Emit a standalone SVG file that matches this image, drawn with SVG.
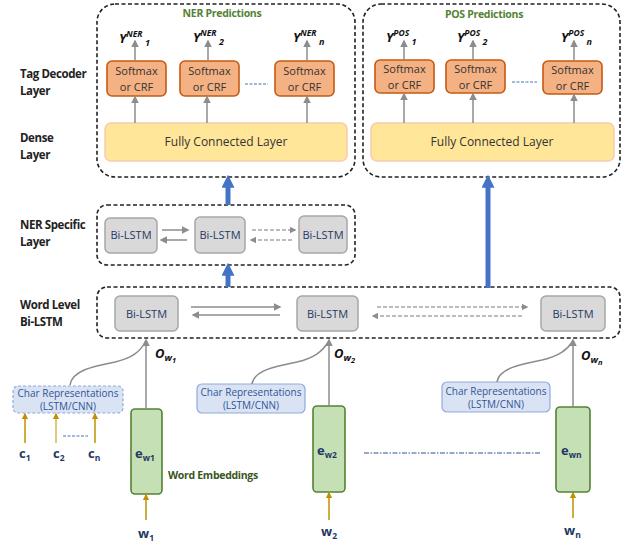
<svg xmlns="http://www.w3.org/2000/svg" width="630" height="547" viewBox="0 0 630 547">
<defs>
<marker id="ag" viewBox="0 0 10 10" refX="8" refY="5" markerWidth="5" markerHeight="5" orient="auto"><path d="M0,0 L10,5 L0,10 z" fill="#8c8c8c"/></marker>
<marker id="ab" viewBox="0 0 10 10" refX="6" refY="5" markerWidth="2.6" markerHeight="2.6" orient="auto"><path d="M0,0 L10,5 L0,10 z" fill="#4472c4"/></marker>
<marker id="ay" viewBox="0 0 10 10" refX="8" refY="5" markerWidth="4.5" markerHeight="4.5" orient="auto"><path d="M0,0 L10,5 L0,10 z" fill="#bf9000"/></marker>
<style>
text{font-family:"Open Sans","Liberation Sans",sans-serif;}
.outer{fill:none;stroke:#222;stroke-width:1.6;stroke-dasharray:4 2.5;}
.soft{fill:#f4b183;stroke:#c55a11;stroke-width:1.6;}
.fc{fill:#ffe699;stroke:#f8cbad;stroke-width:1.5;}
.lstm{fill:#d9d9d9;stroke:#a6a6a6;stroke-width:1.5;}
.char{fill:#dae3f3;stroke:#8faadc;stroke-width:1.2;}
.emb{fill:#c5e0b4;stroke:#548235;stroke-width:1.6;}
.t{font-size:11px;fill:#333;text-anchor:middle;}
.tb{font-size:11px;fill:#1f3864;text-anchor:middle;}
.lab{font-size:11.5px;font-weight:bold;fill:#222;letter-spacing:-0.4px;}
.grn{font-size:10.5px;font-weight:bold;fill:#548235;letter-spacing:-0.3px;}
.y{font-size:13px;font-weight:bold;font-style:italic;fill:#111;}
.ys{font-size:8.5px;font-weight:bold;font-style:italic;fill:#111;}
.ar{stroke:#8c8c8c;stroke-width:1.5;fill:none;marker-end:url(#ag);}
.ard{stroke:#a6a6a6;stroke-width:1.3;fill:none;stroke-dasharray:4 2;marker-end:url(#ag);}
.blue{stroke:#4472c4;stroke-width:5;fill:none;marker-end:url(#ab);}
.gold{stroke:#bf9000;stroke-width:1.5;fill:none;marker-end:url(#ay);}
.w{font-size:13px;font-weight:bold;fill:#1f3864;}
.ws{font-size:8.5px;font-weight:bold;fill:#1f3864;}
.o{font-size:13px;font-weight:bold;font-style:italic;fill:#111;}
</style>
</defs>

<!-- side labels -->
<g id="labels">
<text class="lab" x="20" y="78">Tag Decoder</text>
<text class="lab" x="20" y="95">Layer</text>
<text class="lab" x="20" y="142">Dense</text>
<text class="lab" x="20" y="159">Layer</text>
<text class="lab" x="20" y="229">NER Specific</text>
<text class="lab" x="20" y="246">Layer</text>
<text class="lab" x="20" y="309">Word Level</text>
<text class="lab" x="20" y="326">Bi-LSTM</text>
</g>

<!-- NER prediction block -->
<g id="ner-block">
<rect class="outer" x="97" y="4" width="258" height="173" rx="18"/>
<text class="grn" x="222" y="17" text-anchor="middle">NER Predictions</text>
</g>
<g id="ner-soft1"><rect class="soft" x="107" y="61" width="59" height="35" rx="5"/><text class="t" x="136.5" y="75">Softmax</text><text class="t" x="136.5" y="91">or CRF</text></g>
<g id="ner-soft2"><rect class="soft" x="180" y="61" width="59" height="35" rx="5"/><text class="t" x="209.5" y="75">Softmax</text><text class="t" x="209.5" y="91">or CRF</text></g>
<g id="ner-soft3"><rect class="soft" x="275" y="61" width="59" height="35" rx="5"/><text class="t" x="304.5" y="75">Softmax</text><text class="t" x="304.5" y="91">or CRF</text></g>
<g id="ner-fc"><rect class="fc" x="105" y="123" width="242" height="38" rx="6"/><text class="t" x="226" y="146" style="font-size:12px">Fully Connected Layer</text></g>
<g id="ner-y">
<text x="119" y="43"><tspan class="y">Y</tspan><tspan class="ys" dy="-6">NER</tspan><tspan class="ys" dy="9" style="font-size:9px"> 1</tspan></text>
<text x="193" y="42"><tspan class="y">Y</tspan><tspan class="ys" dy="-6">NER</tspan><tspan class="ys" dy="9" style="font-size:9px"> 2</tspan></text>
<text x="293" y="42"><tspan class="y">Y</tspan><tspan class="ys" dy="-6">NER</tspan><tspan class="ys" dy="9" style="font-size:9px"> n</tspan></text>
</g>

<!-- POS prediction block -->
<g id="pos-block">
<rect class="outer" x="363" y="4" width="257" height="173" rx="18"/>
<text class="grn" x="484" y="18" text-anchor="middle">POS Predictions</text>
</g>
<g id="pos-soft1"><rect class="soft" x="375" y="60" width="59" height="33" rx="5"/><text class="t" x="404.5" y="73">Softmax</text><text class="t" x="404.5" y="89">or CRF</text></g>
<g id="pos-soft2"><rect class="soft" x="446" y="60" width="59" height="33" rx="5"/><text class="t" x="475.5" y="73">Softmax</text><text class="t" x="475.5" y="89">or CRF</text></g>
<g id="pos-soft3"><rect class="soft" x="543" y="61" width="59" height="33" rx="5"/><text class="t" x="572.5" y="74">Softmax</text><text class="t" x="572.5" y="90">or CRF</text></g>
<g id="pos-fc"><rect class="fc" x="371" y="123" width="243" height="38" rx="6"/><text class="t" x="492" y="146" style="font-size:12px">Fully Connected Layer</text></g>
<g id="pos-y">
<text x="386" y="42"><tspan class="y">Y</tspan><tspan class="ys" dy="-6">POS</tspan><tspan class="ys" dy="9" style="font-size:9px"> 1</tspan></text>
<text x="457" y="42"><tspan class="y">Y</tspan><tspan class="ys" dy="-6">POS</tspan><tspan class="ys" dy="9" style="font-size:9px"> 2</tspan></text>
<text x="561" y="42"><tspan class="y">Y</tspan><tspan class="ys" dy="-6">POS</tspan><tspan class="ys" dy="9" style="font-size:9px"> n</tspan></text>
</g>

<!-- NER specific layer -->
<g id="ner-specific"><rect class="outer" x="97" y="205" width="258" height="60" rx="10"/></g>
<g id="ner-lstm1"><rect class="lstm" x="105" y="218" width="52" height="35" rx="5"/><text class="tb" x="131" y="239">Bi-LSTM</text></g>
<g id="ner-lstm2"><rect class="lstm" x="195" y="217" width="50" height="36" rx="5"/><text class="tb" x="220" y="239">Bi-LSTM</text></g>
<g id="ner-lstm3"><rect class="lstm" x="299" y="216" width="48" height="37" rx="5"/><text class="tb" x="323" y="239">Bi-LSTM</text></g>

<!-- Word level layer -->
<g id="word-level"><rect class="outer" x="97" y="287" width="523" height="51" rx="10"/></g>
<g id="w-lstm1"><rect class="lstm" x="115" y="296" width="63" height="35" rx="5"/><text class="tb" x="146.5" y="318">Bi-LSTM</text></g>
<g id="w-lstm2"><rect class="lstm" x="297" y="296" width="61" height="35" rx="5"/><text class="tb" x="327.5" y="318">Bi-LSTM</text></g>
<g id="w-lstm3"><rect class="lstm" x="541" y="296" width="64" height="35" rx="5"/><text class="tb" x="573" y="318">Bi-LSTM</text></g>

<!-- char representations -->
<g id="char1"><rect class="char" x="13" y="386" width="110" height="27" rx="5" style="stroke-dasharray:3 2"/><text class="tb" x="68" y="397" style="font-size:10px;fill:#2f5597">Char Representations</text><text class="tb" x="68" y="410" style="font-size:10px;fill:#2f5597">(LSTM/CNN)</text></g>
<g id="char2"><rect class="char" x="197" y="384" width="108" height="29" rx="5"/><text class="tb" x="251" y="396" style="font-size:10px;fill:#2f5597">Char Representations</text><text class="tb" x="251" y="409" style="font-size:10px;fill:#2f5597">(LSTM/CNN)</text></g>
<g id="char3"><rect class="char" x="442" y="382" width="108" height="30" rx="5"/><text class="tb" x="496" y="395" style="font-size:10px;fill:#2f5597">Char Representations</text><text class="tb" x="496" y="408" style="font-size:10px;fill:#2f5597">(LSTM/CNN)</text></g>

<!-- embeddings -->
<g id="emb1"><rect class="emb" x="131" y="409" width="31" height="85" rx="4"/><text class="w" x="135" y="458">e<tspan class="ws" dy="3">w1</tspan></text></g>
<g id="emb2"><rect class="emb" x="313" y="406" width="32" height="86" rx="4"/><text class="w" x="317" y="455">e<tspan class="ws" dy="3">w2</tspan></text></g>
<g id="emb3"><rect class="emb" x="556" y="407" width="34" height="85" rx="4"/><text class="w" x="561" y="455">e<tspan class="ws" dy="3">wn</tspan></text></g>
<text class="grn" x="168" y="479" style="fill:#375623">Word Embeddings</text>

<!-- inputs labels -->
<g id="inputs">
<text class="w" x="138" y="538">w<tspan class="ws" dy="3">1</tspan></text>
<text class="w" x="321" y="536">w<tspan class="ws" dy="3">2</tspan></text>
<text class="w" x="564" y="535">w<tspan class="ws" dy="3">n</tspan></text>
<text class="w" x="19" y="458">c<tspan class="ws" dy="3">1</tspan></text>
<text class="w" x="53" y="458">c<tspan class="ws" dy="3">2</tspan></text>
<text class="w" x="88" y="458">c<tspan class="ws" dy="3">n</tspan></text>
<text class="o" x="155" y="358">O<tspan class="ys" dy="3" style="font-size:9.5px">w<tspan dy="2" style="font-size:7.5px">1</tspan></tspan></text>
<text class="o" x="334" y="358">O<tspan class="ys" dy="3" style="font-size:9.5px">w<tspan dy="2" style="font-size:7.5px">2</tspan></tspan></text>
<text class="o" x="581" y="360">O<tspan class="ys" dy="3" style="font-size:9.5px">w<tspan dy="2" style="font-size:7.5px">n</tspan></tspan></text>
</g>

<!-- connectors -->
<g id="connectors">
<line class="ar" x1="135" y1="61" x2="135" y2="41"/>
<line class="ar" x1="208" y1="61" x2="208" y2="41"/>
<line class="ar" x1="307" y1="61" x2="307" y2="41"/>
<line class="ar" x1="135" y1="123" x2="135" y2="97"/>
<line class="ar" x1="207" y1="123" x2="207" y2="97"/>
<line class="ar" x1="307" y1="123" x2="307" y2="97"/>
<line x1="245" y1="84" x2="268" y2="84" stroke="#4472c4" stroke-width="1.2" stroke-dasharray="3 1.5"/>
<line class="ar" x1="404" y1="60" x2="404" y2="41"/>
<line class="ar" x1="473" y1="60" x2="473" y2="41"/>
<line class="ar" x1="574" y1="61" x2="574" y2="41"/>
<line class="ar" x1="404" y1="123" x2="404" y2="94"/>
<line class="ar" x1="473" y1="123" x2="473" y2="94"/>
<line class="ar" x1="574" y1="123" x2="574" y2="95"/>
<line x1="512" y1="82" x2="537" y2="82" stroke="#4472c4" stroke-width="1.2" stroke-dasharray="3 1.5"/>
<line class="blue" x1="228" y1="205" x2="228" y2="180"/>
<line class="blue" x1="228" y1="287" x2="228" y2="268"/>
<line class="blue" x1="488" y1="288" x2="488" y2="180"/>
<line class="ar" x1="162" y1="230" x2="188" y2="230"/>
<line class="ar" x1="187" y1="240" x2="161" y2="240"/>
<line class="ard" x1="252" y1="230" x2="295" y2="230"/>
<line class="ard" x1="292" y1="240" x2="251" y2="240"/>
<line class="ar" x1="191" y1="307" x2="280" y2="307"/>
<line class="ar" x1="280" y1="315" x2="193" y2="315"/>
<line class="ard" x1="377" y1="307" x2="527" y2="307"/>
<line class="ard" x1="522" y1="316" x2="373" y2="316"/>
<line class="ar" x1="146" y1="409" x2="146" y2="340"/>
<line class="ar" x1="329" y1="406" x2="329" y2="340"/>
<line class="ar" x1="573" y1="407" x2="573" y2="340"/>
<path class="ar" d="M70,385 C72,370 95,366 115,362 C132,358 140,352 146,341" style="marker-end:none"/>
<path class="ar" d="M252,384 C254,370 277,366 297,362 C314,358 322,352 329,341" style="marker-end:none"/>
<path class="ar" d="M497,382 C499,368 522,364 542,360 C559,356 567,350 573,341" style="marker-end:none"/>
<line class="gold" x1="146" y1="520" x2="146" y2="495"/>
<line class="gold" x1="329" y1="520" x2="329" y2="493"/>
<line class="gold" x1="573" y1="518" x2="573" y2="493"/>
<line class="gold" x1="25" y1="443" x2="25" y2="414"/>
<line class="gold" x1="56" y1="443" x2="56" y2="414" style="stroke:#d6b656"/>
<line class="gold" x1="95" y1="443" x2="95" y2="414"/>
<line x1="63" y1="436" x2="88" y2="436" stroke="#4472c4" stroke-width="1.2" stroke-dasharray="3 1.5"/>
<line x1="364" y1="453" x2="540" y2="453" stroke="#2f5597" stroke-width="1.2" stroke-dasharray="5 1.5 1.5 1.5"/>
</g>
</svg>
